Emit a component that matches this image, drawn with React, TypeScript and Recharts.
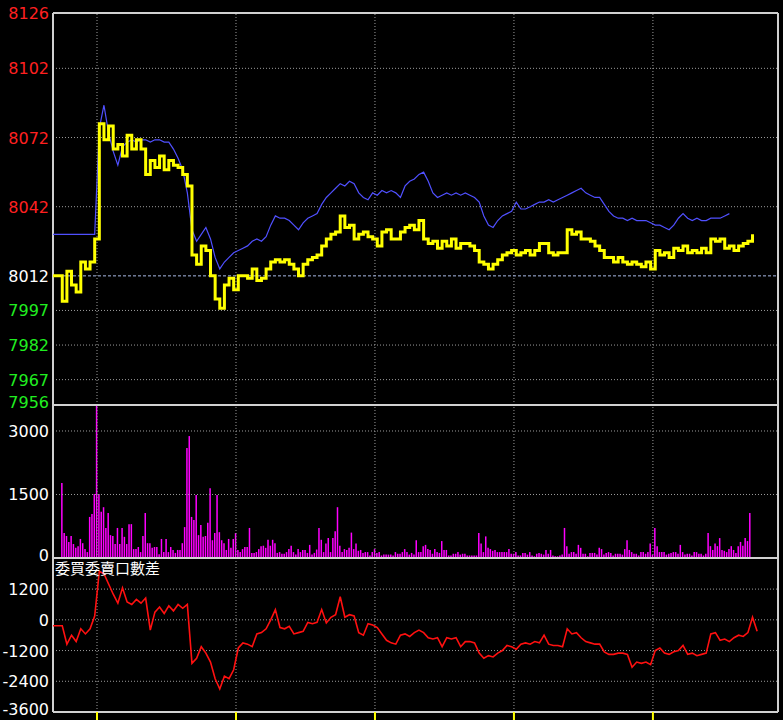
import { Bar, ComposedChart, Line, ReferenceLine, XAxis, YAxis } from "recharts";

// x = minutes after 08:45 (futures session 08:45–13:45)
const X_DOMAIN: [number, number] = [-4, 309];
const HOUR_TICKS = [15, 75, 135, 195, 255]; // 09:00 .. 13:00
const T0 = -4;
const STEP = 2;

const PREV_CLOSE = 8012;
const PRICE_DOMAIN: [number, number] = [7956, 8126];
const VOLUME_DOMAIN: [number, number] = [0, 3614];
const DIFF_DOMAIN: [number, number] = [-3600, 2415];

const priceTicks = [8126, 8102, 8072, 8042, 8012, 7997, 7982, 7967, 7956];
const volumeTicks = [3000, 1500, 0];
const diffTicks = [1200, 0, -1200, -2400, -3600];
const diffTitle = "委買委賣口數差";

// futures price, every 2 min from t=-4
const price = [
  8012, 8012, 8001, 8014, 8008, 8005, 8018, 8015, 8018, 8028,
  8078, 8071, 8077, 8067, 8069, 8064, 8073, 8067, 8071, 8067,
  8056, 8062, 8059, 8064, 8058, 8062, 8060, 8059, 8056, 8051,
  8021, 8017, 8025, 8023, 8012, 8002, 7998, 8008, 8011, 8006,
  8012, 8012, 8011, 8015, 8010, 8011, 8015, 8018, 8019, 8018,
  8019, 8017, 8015, 8012, 8017, 8019, 8020, 8021, 8025, 8028,
  8030, 8031, 8038, 8033, 8034, 8028, 8030, 8031, 8029, 8028,
  8025, 8031, 8032, 8028, 8028, 8031, 8033, 8034, 8032, 8036,
  8028, 8026, 8027, 8024, 8027, 8025, 8028, 8024, 8026, 8026,
  8025, 8023, 8018, 8017, 8015, 8017, 8019, 8021, 8022, 8023,
  8021, 8022, 8023, 8021, 8023, 8026, 8026, 8022, 8021, 8022,
  8022, 8032, 8030, 8031, 8028, 8028, 8027, 8025, 8023, 8020,
  8020, 8018, 8020, 8018, 8017, 8018, 8017, 8016, 8018, 8015,
  8023, 8021, 8022, 8020, 8024, 8023, 8025, 8022, 8023, 8022,
  8024, 8022, 8028, 8027, 8028, 8024, 8025, 8023, 8025, 8026,
  8027, 8030,
];

// spot index, every 2 min from t=-4 (flat at previous close before 09:00)
const spot = [
  8030, 8030, 8030, 8030, 8030, 8030, 8030, 8030, 8030, 8030,
  8076, 8086, 8074, 8066, 8060, 8068, 8070, 8071, 8070, 8071,
  8071, 8070, 8071, 8071, 8070, 8070, 8067, 8063, 8058, 8048,
  8032, 8027, 8030, 8033, 8028, 8020, 8015, 8018, 8020, 8022,
  8023, 8024, 8025, 8027, 8028, 8027, 8029, 8034, 8038, 8037,
  8037, 8036, 8034, 8032, 8035, 8037, 8038, 8039, 8043, 8046,
  8048, 8050, 8052, 8051, 8053, 8052, 8048, 8046, 8045, 8048,
  8047, 8049, 8048, 8049, 8048, 8046, 8051, 8053, 8054, 8056,
  8057, 8053, 8048, 8046, 8047, 8048, 8047, 8048, 8047, 8048,
  8047, 8046, 8044, 8038, 8034, 8033, 8036, 8038, 8039, 8040,
  8044, 8041, 8041, 8042, 8043, 8044, 8044, 8045, 8044, 8045,
  8046, 8047, 8048, 8049, 8050, 8048, 8047, 8046, 8046, 8043,
  8040, 8038, 8037, 8037, 8036, 8037, 8036, 8036, 8036, 8035,
  8034, 8034, 8033, 8032, 8034, 8037, 8039, 8037, 8036, 8037,
  8036, 8036, 8037, 8037, 8037, 8038, 8039,
];

// bid/ask lots difference, every 2 min from t=-4
const diff = [
  -234, -234, -234, -950, -600, -850, -350, -550, -350, 150,
  1900, 1800, 1400, 1000, 650, 1250, 700, 600, 800, 650,
  850, -400, 300, 500, 250, 550, 350, 600, 450, 600,
  -1700, -1500, -1050, -1300, -1650, -2300, -2700, -2200, -2300, -1950,
  -1100, -900, -950, -1050, -550, -500, -350, 0, 400, -300,
  -350, -250, -550, -500, -450, -100, -150, -100, 400, -120,
  100, 200, 900, 100, 200, 150, -500, -600, -150, -200,
  -300, -550, -800, -900, -950, -600, -550, -650, -500, -400,
  -500, -700, -750, -700, -1050, -700, -750, -700, -1050, -850,
  -850, -900, -1300, -1500, -1400, -1450, -1300, -1200, -1000, -1050,
  -1150, -950, -900, -950, -850, -900, -600, -950, -1000, -1000,
  -1050, -350, -550, -500, -700, -850, -900, -950, -950, -1250,
  -1350, -1350, -1300, -1300, -1350, -1850, -1650, -1700, -1650, -1750,
  -1200, -1100, -1300, -1350, -1250, -1200, -1000, -1350, -1300, -1400,
  -1350, -1300, -550, -500, -800, -750, -850, -700, -600, -650,
  -500, 100, -450,
];

// volume per minute from t=0
const volume = [
  1770, 590, 520, 380, 520, 330, 240, 280, 450, 350,
  210, 140, 970, 1040, 1510, 3700, 1510, 1090, 1200, 710,
  1060, 540, 520, 330, 710, 330, 710, 500, 330, 800,
  800, 210, 210, 260, 140, 520, 1060, 350, 350, 240,
  260, 260, 90, 450, 140, 450, 140, 260, 190, 120,
  190, 190, 350, 730, 2600, 2880, 970, 900, 1490, 540,
  780, 500, 520, 830, 1650, 420, 590, 1490, 610, 420,
  350, 190, 450, 240, 450, 590, 190, 140, 210, 260,
  260, 710, 120, 120, 140, 210, 280, 290, 240, 430,
  290, 430, 350, 120, 140, 100, 100, 140, 210, 290,
  140, 80, 210, 140, 190, 190, 120, 310, 80, 120,
  200, 710, 430, 140, 340, 470, 140, 470, 630, 1200,
  290, 140, 210, 190, 240, 600, 210, 340, 170, 190,
  120, 140, 140, 60, 140, 210, 120, 140, 60, 80,
  80, 80, 80, 60, 140, 100, 100, 140, 210, 140,
  80, 120, 80, 420, 140, 140, 280, 310, 210, 190,
  100, 210, 140, 120, 400, 190, 190, 60, 60, 100,
  100, 140, 80, 100, 100, 60, 60, 60, 60, 60,
  590, 340, 140, 510, 240, 210, 170, 190, 140, 140,
  140, 140, 140, 210, 100, 100, 140, 60, 60, 120,
  120, 80, 140, 60, 40, 100, 120, 100, 80, 190,
  100, 190, 60, 40, 40, 60, 80, 710, 280, 100,
  140, 140, 100, 310, 240, 100, 100, 40, 120, 120,
  120, 80, 240, 210, 80, 120, 140, 120, 60, 100,
  100, 100, 80, 210, 420, 190, 140, 100, 100, 60,
  140, 140, 100, 140, 340, 80, 710, 280, 140, 140,
  140, 80, 100, 120, 140, 140, 100, 310, 140, 80,
  100, 100, 60, 140, 140, 100, 100, 60, 100, 590,
  280, 190, 340, 280, 470, 190, 170, 140, 210, 280,
  190, 120, 280, 380, 290, 470, 400, 1060,
];

const rows = diff.map((d, i) => ({
  t: T0 + i * STEP,
  price: price[i] ?? null,
  spot: spot[i] ?? null,
  diff: d,
}));
const volumeRows = volume.map((v, i) => ({ t: i, vol: v }));

const W = 783;
const GRID = "#9c9c9c";
const BORDER = "#d0d0d0";
const FONT = "DejaVu Sans";

function makeTick(colorOf: (v: number) => string, bottom: number) {
  return (props: any) => {
    const { x, y, payload } = props;
    // the label on the lower border of each panel is lifted a little, as in the terminal
    const dy = payload.value === bottom ? 3 : 6;
    return (
      <text x={x} y={y} dy={dy} textAnchor="end" fill={colorOf(payload.value)} fontSize={16} fontFamily={FONT}>
        {payload.value}
      </text>
    );
  };
}

const priceColor = (v: number) => (v > PREV_CLOSE ? "#ff2020" : v < PREV_CLOSE ? "#20ee20" : "#ffffff");
const white = () => "#ffffff";

function frame(domain: [number, number], gridValues: number[]) {
  return [
    ...gridValues.map((v) => (
      <ReferenceLine key={`h${v}`} y={v} stroke={GRID} strokeDasharray="1 2" />
    )),
    ...HOUR_TICKS.map((t) => <ReferenceLine key={`v${t}`} x={t} stroke={GRID} strokeDasharray="1 2" />),
    <ReferenceLine key="top" y={domain[1]} stroke={BORDER} strokeWidth={2} />,
    <ReferenceLine key="bottom" y={domain[0]} stroke={BORDER} strokeWidth={2} />,
    <ReferenceLine key="left" x={X_DOMAIN[0]} stroke={BORDER} strokeWidth={2} />,
    <ReferenceLine key="right" x={X_DOMAIN[1]} stroke={BORDER} strokeWidth={2} />,
  ];
}

function yAxisProps(domain: [number, number], ticks: number[], colorOf: (v: number) => string) {
  return {
    domain,
    ticks,
    interval: 0 as const,
    width: 53,
    axisLine: false,
    tickLine: false,
    tickSize: 0,
    tickMargin: 4,
    allowDataOverflow: true,
    tick: makeTick(colorOf, domain[0]),
  };
}

export default function App() {
  return (
    <div style={{ position: "absolute", left: 0, top: 0, width: W, height: 720, background: "#000", overflow: "hidden" }}>
      <div style={{ position: "absolute", left: 0, top: 0 }}>
        <ComposedChart width={W} height={420} data={rows} margin={{ top: 13, right: 5, bottom: 15, left: 0 }}>
          <XAxis type="number" dataKey="t" domain={X_DOMAIN} hide allowDataOverflow />
          <YAxis {...yAxisProps(PRICE_DOMAIN, priceTicks, priceColor)} />
          {frame(PRICE_DOMAIN, priceTicks.filter((v) => v !== PREV_CLOSE && v !== 8126 && v !== 7956))}
          <ReferenceLine y={PREV_CLOSE} stroke="#a9bbe6" strokeDasharray="3 2" />
          <Line dataKey="spot" type="linear" stroke="#5050ff" strokeWidth={1.2} dot={false} isAnimationActive={false} />
          <Line dataKey="price" type="stepAfter" stroke="#ffff00" strokeWidth={3} dot={false} isAnimationActive={false} />
        </ComposedChart>
      </div>
      <div style={{ position: "absolute", left: 0, top: 405 }}>
        <ComposedChart width={W} height={165} data={volumeRows} margin={{ top: 0, right: 5, bottom: 12, left: 0 }}>
          <XAxis type="number" dataKey="t" domain={X_DOMAIN} hide allowDataOverflow />
          <YAxis {...yAxisProps(VOLUME_DOMAIN, volumeTicks, white)} />
          {frame(VOLUME_DOMAIN, [3000, 1500])}
          <Bar dataKey="vol" fill="#ff00ff" barSize={1.5} isAnimationActive={false} />
        </ComposedChart>
      </div>
      <div style={{ position: "absolute", left: 0, top: 558 }}>
        <ComposedChart width={W} height={162} data={rows} margin={{ top: 0, right: 5, bottom: 0, left: 0 }}>
          <XAxis
            type="number"
            dataKey="t"
            domain={X_DOMAIN}
            ticks={HOUR_TICKS}
            interval={0}
            height={8}
            axisLine={false}
            tickSize={8}
            tickLine={{ stroke: "#ffff00", strokeWidth: 2 }}
            tickFormatter={() => ""}
            allowDataOverflow
          />
          <YAxis {...yAxisProps(DIFF_DOMAIN, diffTicks, white)} />
          {frame(DIFF_DOMAIN, [1200, 0, -1200, -2400])}
          <Line dataKey="diff" type="linear" stroke="#ff1010" strokeWidth={1.6} dot={false} isAnimationActive={false} />
        </ComposedChart>
      </div>
      <div
        style={{
          position: "absolute",
          left: 55,
          top: 559,
          color: "#fff",
          fontSize: 15,
          lineHeight: "18px",
          fontFamily: "'Noto Sans CJK TC', 'Noto Sans CJK SC', sans-serif",
        }}
      >
        {diffTitle}
      </div>
    </div>
  );
}
